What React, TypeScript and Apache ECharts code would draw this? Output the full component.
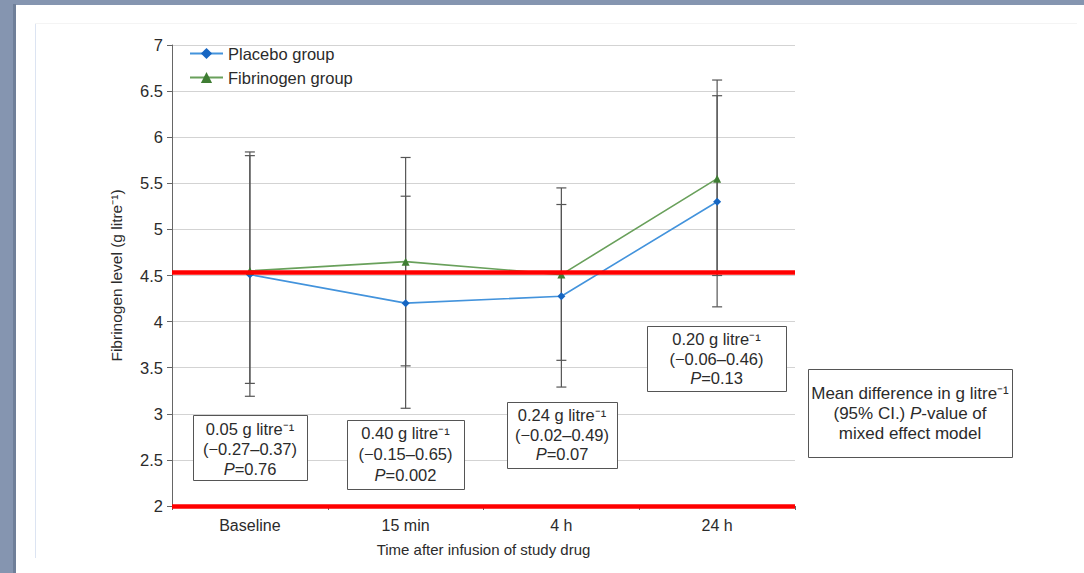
import React, { useEffect, useRef } from "react";
import * as echarts from "echarts";

const categories = ["Baseline", "15 min", "4 h", "24 h"];
const placebo = [4.51, 4.2, 4.275, 5.3];
const fibrinogen = [4.55, 4.65, 4.51, 5.55];
const placeboLow = [3.19, 3.06, 3.29, 4.16];
const placeboHigh = [5.8, 5.36, 5.27, 6.45];
const fibrinogenLow = [3.33, 3.52, 3.58, 4.5];
const fibrinogenHigh = [5.84, 5.78, 5.45, 6.62];
const referenceLevels = [4.53, 2];

const boxLines = [
  ["0.05 g litre⁻¹", "(−0.27–0.37)", "{i|P}=0.76"],
  ["0.40 g litre⁻¹", "(−0.15–0.65)", "{i|P}=0.002"],
  ["0.24 g litre⁻¹", "(−0.02–0.49)", "{i|P}=0.07"],
  ["0.20 g litre⁻¹", "(−0.06–0.46)", "{i|P}=0.13"],
  ["Mean difference in g litre⁻¹", "(95% CI.) {i|P}-value of", "mixed effect model"],
];

const FONT = "'Liberation Sans', Arial, Helvetica, sans-serif";
const TXT = "#2b2b2b";

export default function App() {
  const ref = useRef<HTMLDivElement>(null);
  useEffect(() => {
    if (!ref.current) return;
    const chart = echarts.init(ref.current, undefined, { renderer: "svg" });

    const boxes = [
      { x: 193, y: 415, w: 114, h: 65, ys: [429, 449, 469], fs: 16.5 },
      { x: 347, y: 420, w: 117, h: 69, ys: [433, 454, 475], fs: 16.5 },
      { x: 507, y: 402, w: 110, h: 66, ys: [415, 435, 454], fs: 16.5 },
      { x: 647, y: 326, w: 139, h: 65, ys: [339, 359, 378], fs: 16.5 },
      { x: 808, y: 369, w: 204, h: 88, ys: [393, 413, 433], fs: 17 },
    ];

    const graphic: any[] = [];
    boxes.forEach((b, bi) => {
      const cx = b.x + b.w / 2;
      graphic.push({
        type: "rect",
        z: 100,
        shape: { x: b.x + 0.5, y: b.y + 0.5, width: b.w, height: b.h },
        style: { fill: "#fff", stroke: "#555", lineWidth: 1 },
      });
      boxLines[bi].forEach((t, li) => {
        graphic.push({
          type: "text",
          z: 101,
          x: cx,
          y: b.ys[li],
          style: {
            text: t,
            fill: TXT,
            fontSize: b.fs,
            fontFamily: FONT,
            align: "center",
            verticalAlign: "middle",
            rich: {
              i: { fontStyle: "italic", fontSize: b.fs, fontFamily: FONT, fill: TXT },
            },
          },
        });
      });
    });

    const errData = categories.flatMap((_, i) => [
      [i, placeboLow[i], placeboHigh[i]],
      [i, fibrinogenLow[i], fibrinogenHigh[i]],
    ]);

    chart.setOption({
      animation: false,
      grid: { left: 172, right: 289, top: 45, bottom: 67 },
      legend: {
        orient: "vertical",
        left: 184,
        top: 40,
        itemWidth: 33,
        itemHeight: 14,
        itemGap: 7,
        textStyle: { fontSize: 16.5, fontFamily: FONT, color: TXT },
        data: ["Placebo group", "Fibrinogen group"],
      },
      xAxis: {
        type: "category",
        data: categories,
        boundaryGap: true,
        name: "Time after infusion of study drug",
        nameLocation: "middle",
        nameGap: 36,
        nameTextStyle: { fontSize: 15, fontFamily: FONT, color: TXT },
        axisLine: { lineStyle: { color: "#666" } },
        axisTick: { show: true, length: 4, lineStyle: { color: "#666" } },
        axisLabel: { fontSize: 16, fontFamily: FONT, color: TXT, margin: 11 },
      },
      yAxis: {
        type: "value",
        min: 2,
        max: 7,
        interval: 0.5,
        name: "Fibrinogen level (g litre⁻¹)",
        nameLocation: "middle",
        nameGap: 48,
        nameTextStyle: { fontSize: 15.5, fontFamily: FONT, color: TXT },
        axisLine: { show: true, lineStyle: { color: "#666" } },
        axisTick: { show: true, length: 5, lineStyle: { color: "#666" } },
        axisLabel: { fontSize: 16.5, fontFamily: FONT, color: TXT, margin: 9 },
        splitLine: { lineStyle: { color: "#d3d3d3", width: 1.2 } },
      },
      series: [
        {
          type: "custom",
          name: "error",
          z: 1,
          data: errData,
          renderItem: (params: any, api: any) => {
            const x = api.value(0);
            const lo = api.coord([x, api.value(1)]);
            const hi = api.coord([x, api.value(2)]);
            const w = 5;
            const st = { stroke: "#555", lineWidth: 1.2 };
            return {
              type: "group",
              children: [
                { type: "line", shape: { x1: lo[0], y1: lo[1], x2: hi[0], y2: hi[1] }, style: st },
                { type: "line", shape: { x1: lo[0] - w, y1: lo[1], x2: lo[0] + w, y2: lo[1] }, style: st },
                { type: "line", shape: { x1: hi[0] - w, y1: hi[1], x2: hi[0] + w, y2: hi[1] }, style: st },
              ],
            };
          },
        },
        {
          type: "line",
          name: "Placebo group",
          z: 3,
          data: placebo,
          symbol: "diamond",
          symbolSize: 8,
          lineStyle: { color: "#4393dc", width: 1.6 },
          itemStyle: { color: "#1666c2" },
        },
        {
          type: "line",
          name: "Fibrinogen group",
          z: 3,
          data: fibrinogen,
          symbol: "triangle",
          symbolSize: 8,
          lineStyle: { color: "#69a05b", width: 1.6 },
          itemStyle: { color: "#3f7d33" },
          markLine: {
            silent: true,
            symbol: "none",
            label: { show: false },
            lineStyle: { color: "#ff0000", width: 4.5, type: "solid" },
            data: referenceLevels.map((v) => ({ yAxis: v })),
          },
        },
      ],
      graphic,
    });
    return () => chart.dispose();
  }, []);

  return (
    <div style={{ position: "fixed", left: 0, top: 0, width: 1084, height: 573, background: "#8595b0" }}>
      <div style={{ position: "absolute", left: 13, top: 4, width: 3, height: 569, background: "#6f7f99" }} />
      <div style={{ position: "absolute", left: 16, top: 5, right: 0, bottom: 0, background: "#ffffff" }} />
      <div style={{ position: "absolute", left: 35, top: 23, width: 1, height: 535, background: "#dce4f2" }} />
      <div style={{ position: "absolute", left: 35, top: 23, width: 1042, height: 1, background: "#f4f4f4" }} />
      <div ref={ref} style={{ position: "absolute", left: 0, top: 0, width: 1084, height: 573 }} />
    </div>
  );
}
